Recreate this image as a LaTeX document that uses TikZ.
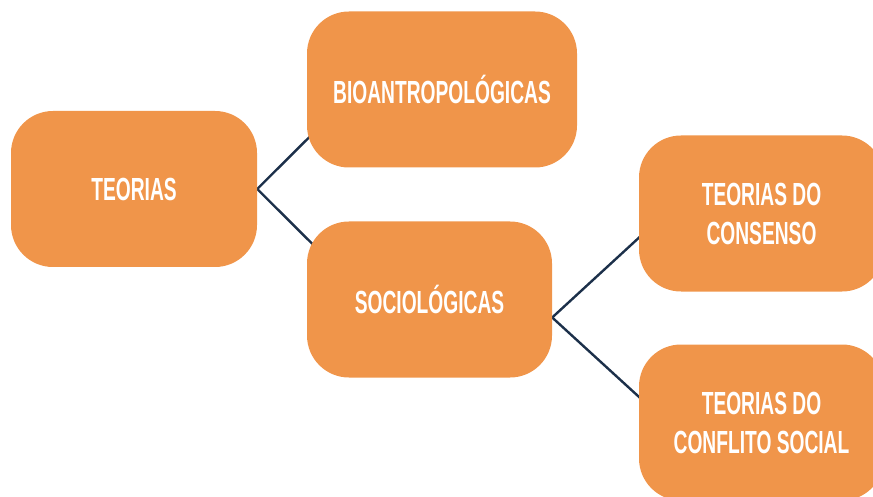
\documentclass[tikz,border=0pt]{standalone}
\usepackage{fontspec}
\newfontfamily\boxfont[FakeStretch=0.6]{Liberation Sans}
\usetikzlibrary{positioning,backgrounds}
\definecolor{boxorange}{RGB}{240,149,74}
\definecolor{linenavy}{RGB}{28,48,74}
\tikzstyle{theory} = [fill=boxorange, rounded corners=42pt, minimum width=246pt, minimum height=156pt, inner sep=0pt, text=white, align=center, font=\boxfont\bfseries\fontsize{32}{39}\selectfont]
\tikzstyle{link} = [linenavy, line width=2.4pt]

\begin{document}
\begin{tikzpicture}[x=1pt, y=-1pt]
    \useasboundingbox (0,0) rectangle (873,497);
    \clip (0,0) rectangle (873,497);

    % Nodes
    \node[theory] (teorias) at (134,189) {TEORIAS};
    \node[theory, minimum width=270pt] (bio) at (442,89.5) {BIOANTROPOLÓGICAS};
    \node[theory, minimum width=245pt] (soc) at (429.5,299.5) {SOCIOLÓGICAS};
    \node[theory, minimum width=245pt] (cons) at (761.5,213.5) {TEORIAS DO\\CONSENSO};
    \node[theory, minimum width=245pt] (conf) at (761.5,422.5) {TEORIAS DO\\CONFLITO SOCIAL};

    % Edges
    \begin{scope}[on background layer]
        \draw[link] (teorias.east) -- ([xshift=10pt, yshift=38pt]bio.south west);
        \draw[link] (teorias.east) -- ([xshift=13pt, yshift=-30pt]soc.north west);
        \draw[link] ([yshift=-18pt]soc.east) -- ([xshift=11pt, yshift=64pt]cons.south west);
        \draw[link] ([yshift=-18pt]soc.east) -- ([xshift=11pt, yshift=-62.5pt]conf.north west);
    \end{scope}
\end{tikzpicture}
\end{document}
